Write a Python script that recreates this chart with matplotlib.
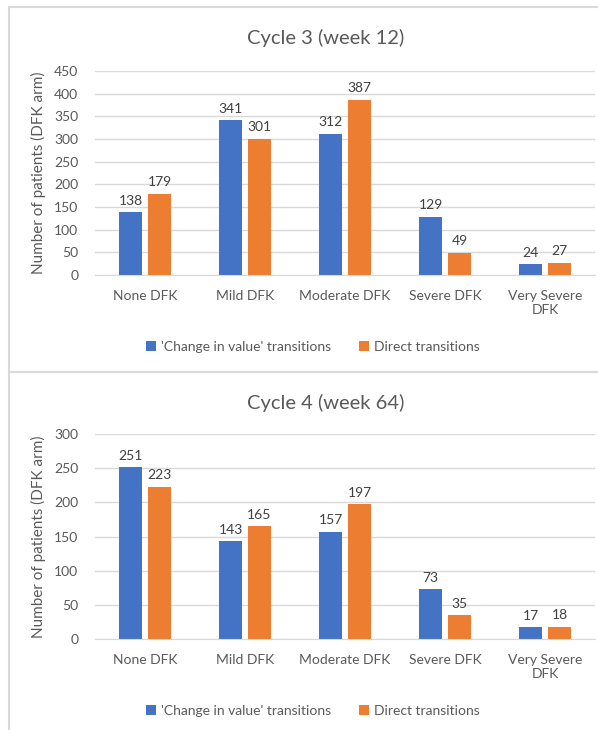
import matplotlib.pyplot as plt
import numpy as np
from matplotlib.patches import Rectangle

categories = ["None DFK", "Mild DFK", "Moderate DFK", "Severe DFK", "Very Severe\nDFK"]
series_names = ["'Change in value' transitions", "Direct transitions"]

cycle3_change = [138, 341, 312, 129, 24]
cycle3_direct = [179, 301, 387, 49, 27]
cycle4_change = [251, 143, 157, 73, 17]
cycle4_direct = [223, 165, 197, 35, 18]

BLUE = "#4472C4"
ORANGE = "#ED7D31"
TEXT = "#595959"
GRID = "#D9D9D9"

plt.rcParams["font.family"] = ["Lato", "DejaVu Sans"]

W, H = 598, 730
fig = plt.figure(figsize=(W / 100, H / 100), dpi=100)


def fx(px):
    return px / W


def fy(py):
    return 1 - py / H


# chart frames
for top, bottom in [(7, 372), (372, 740)]:
    fig.patches.append(Rectangle((fx(9), fy(bottom)), fx(600) - fx(9), fy(top) - fy(bottom),
                                 transform=fig.transFigure, fill=False, edgecolor=GRID, lw=1.5))


def draw_panel(title, change, direct, ymax, ax_top, ax_bottom, title_y, legend_y):
    ax = fig.add_axes([fx(95), fy(ax_bottom), fx(595) - fx(95), fy(ax_top) - fy(ax_bottom)])
    x = np.arange(len(categories))
    w = 0.23
    off = 0.145
    b1 = ax.bar(x - off, change, w, color=BLUE, label=series_names[0])
    b2 = ax.bar(x + off, direct, w, color=ORANGE, label=series_names[1])
    for bars, vals in [(b1, change), (b2, direct)]:
        for r, v in zip(bars, vals):
            ax.annotate(str(v), (r.get_x() + r.get_width() / 2, v), xytext=(0, 4),
                        textcoords="offset points", ha="center", va="bottom",
                        fontsize=10, color="#404040")
    ax.set_xlim(-0.5, len(categories) - 0.5)
    ax.set_ylim(0, ymax)
    ax.set_yticks(np.arange(0, ymax + 1, 50))
    ax.yaxis.grid(True, color=GRID, lw=1)
    ax.set_axisbelow(True)
    for s in ["top", "right", "left"]:
        ax.spines[s].set_visible(False)
    ax.spines["bottom"].set_color(GRID)
    ax.tick_params(axis="y", length=0, labelsize=10, colors=TEXT, pad=12)
    ax.tick_params(axis="x", length=0, labelsize=10, colors=TEXT, pad=11)
    ax.set_xticks(x)
    ax.set_xticklabels(categories, fontsize=10, color=TEXT)
    ax.set_ylabel("Number of patients (DFK arm)", fontsize=11, color=TEXT, labelpad=6)
    fig.text(fx(326), fy(title_y), title, ha="center", va="center", fontsize=14.5, color=TEXT)
    fig.legend(handles=[b1, b2], loc="center", bbox_to_anchor=(fx(313), fy(legend_y)),
               ncol=2, frameon=False, fontsize=10, labelcolor=TEXT, handlelength=0.7,
               handleheight=0.7, handletextpad=0.4, columnspacing=2.0)
    return ax


draw_panel("Cycle 3 (week 12)", cycle3_change, cycle3_direct, 450, 71, 275, 38, 347)
draw_panel("Cycle 4 (week 64)", cycle4_change, cycle4_direct, 300, 434, 639, 403, 711)

fig.savefig("out.png", dpi=100)
